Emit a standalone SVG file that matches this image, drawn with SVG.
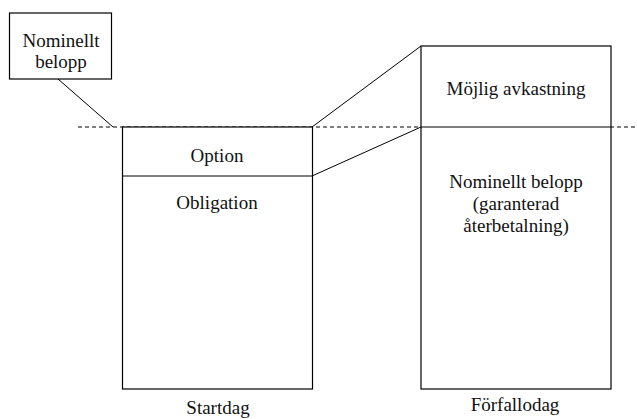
<svg xmlns="http://www.w3.org/2000/svg" width="637" height="419" viewBox="0 0 637 419">
<style>
.box{fill:#fff;stroke:#000;stroke-width:1.2}
.ln{fill:none;stroke:#000;stroke-width:1}
.dash{fill:none;stroke:#000;stroke-width:1;stroke-dasharray:4,3}
text{font-family:"Liberation Serif","Times New Roman",serif;font-size:19px;fill:#111;text-anchor:middle}
</style>
<rect width="637" height="419" fill="#fff"/>
<g id="connectors">
<line class="dash" x1="78" y1="127" x2="637" y2="127"/>
<line class="ln" x1="58" y1="79" x2="113" y2="127"/>
<line class="ln" x1="312" y1="127" x2="421" y2="46"/>
<line class="ln" x1="312" y1="176" x2="421" y2="127"/>
</g>
<g id="nominellt">
<rect class="box" x="9.5" y="13" width="102" height="66"/>
<text x="61" y="47">Nominellt</text>
<text x="61" y="68">belopp</text>
</g>
<g id="startdag">
<rect class="box" x="122.5" y="127" width="190" height="262"/>
<line class="ln" x1="122.5" y1="176" x2="312.5" y2="176"/>
<text x="217" y="162">Option</text>
<text x="217" y="209">Obligation</text>
<text x="218" y="414">Startdag</text>
</g>
<g id="forfallodag">
<rect class="box" x="421" y="46" width="190" height="343"/>
<line class="ln" x1="421" y1="127" x2="611" y2="127"/>
<text x="516" y="95">Möjlig avkastning</text>
<text x="516" y="188">Nominellt belopp</text>
<text x="516" y="210">(garanterad</text>
<text x="516" y="232">återbetalning)</text>
<text x="515" y="411">Förfallodag</text>
</g>
</svg>
